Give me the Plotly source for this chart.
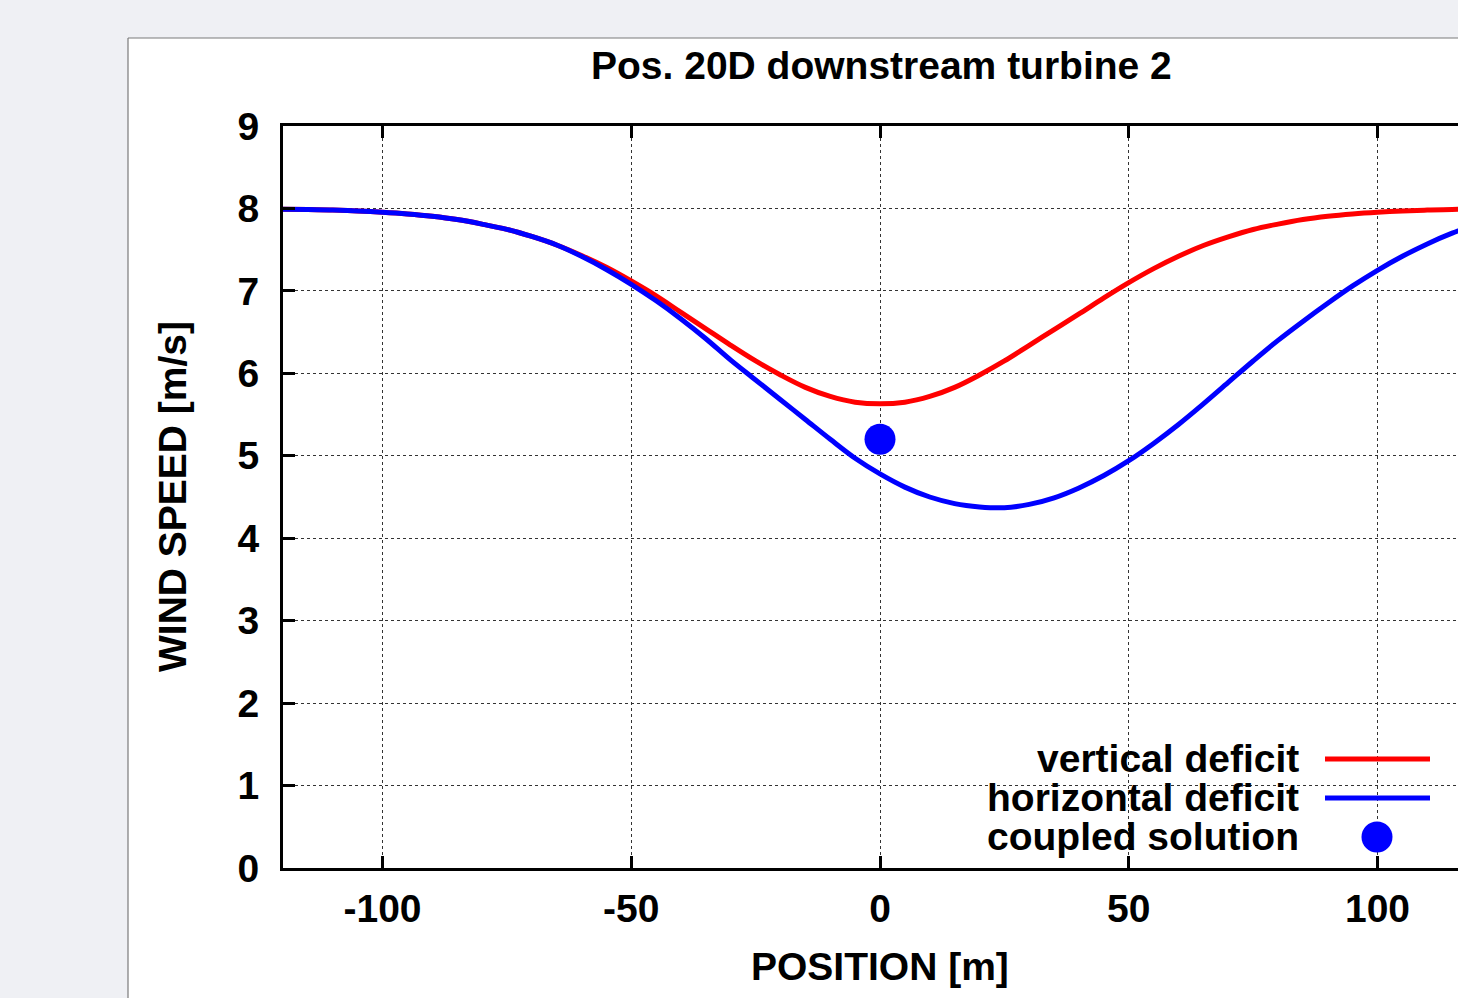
import plotly.graph_objects as go

# ---- data ----
pos = [-120, -115, -110, -105, -100, -95, -90, -85, -80, -75, -70, -65, -60, -55, -50,
       -45, -40, -35, -30, -25, -20, -15, -10, -5, 0, 5, 10, 15, 20, 25, 30, 35, 40,
       45, 50, 55, 60, 65, 70, 75, 80, 85, 90, 95, 100, 105, 110, 115, 120]
vertical = [7.99, 7.988, 7.98, 7.97, 7.955, 7.934, 7.905, 7.865, 7.81, 7.746, 7.66, 7.557, 7.43,
            7.286, 7.12, 6.94, 6.74, 6.54, 6.34, 6.15, 5.98, 5.83, 5.72, 5.65, 5.63,
            5.65, 5.72, 5.83, 5.98, 6.15, 6.34, 6.53, 6.72, 6.915, 7.10, 7.27, 7.42, 7.55,
            7.655, 7.745, 7.81, 7.865, 7.905, 7.934, 7.955, 7.97, 7.98, 7.988, 7.99]
horizontal = [7.99, 7.988, 7.98, 7.97, 7.955, 7.934, 7.905, 7.865, 7.81, 7.746, 7.66, 7.557, 7.42,
              7.26, 7.08, 6.88, 6.66, 6.42, 6.16, 5.92, 5.68, 5.44, 5.20, 4.97, 4.78,
              4.62, 4.50, 4.42, 4.38, 4.37, 4.41, 4.49, 4.61, 4.76, 4.94, 5.15, 5.38, 5.63,
              5.89, 6.15, 6.40, 6.63, 6.85, 7.06, 7.25, 7.42, 7.57, 7.70, 7.81]
coupled_pos = [0]
coupled = [5.2]

legend_labels = ["vertical deficit", "horizontal deficit", "coupled solution"]
title_text = "Pos. 20D downstream turbine 2"
xlabel = "POSITION [m]"
ylabel = "WIND SPEED [m/s]"
xticks = [-100, -50, 0, 50, 100]
yticks = [0, 1, 2, 3, 4, 5, 6, 7, 8, 9]

RED = "#ff0000"
BLUE = "#0000ff"
GREY_BG = "#eff0f4"
FONT = "Liberation Sans"
FS = 39

W, H = 1458, 998
L, R, T, B = 283, 0, 126, 130
PW, PH = W - L - R, H - T - B
BOTTOM = H - B  # pixel row of the x axis


def px(xp):
    return (xp - L) / PW


def py(yp):
    return (BOTTOM - yp) / PH


fig = go.Figure()
fig.add_trace(go.Scatter(x=pos, y=vertical, mode="lines",
                         line=dict(color=RED, width=5, shape="spline", smoothing=1.0),
                         name=legend_labels[0], showlegend=False))
fig.add_trace(go.Scatter(x=pos, y=horizontal, mode="lines",
                         line=dict(color=BLUE, width=5, shape="spline", smoothing=1.0),
                         name=legend_labels[1], showlegend=False))
fig.add_trace(go.Scatter(x=coupled_pos, y=coupled, mode="markers",
                         marker=dict(color=BLUE, size=31),
                         name=legend_labels[2], showlegend=False))

shapes = []
# grey page background strips (top and left); the rest of the paper is the white panel
shapes.append(dict(type="rect", xref="paper", yref="paper",
                   x0=px(0), x1=1.0, y0=py(38), y1=py(0),
                   fillcolor=GREY_BG, line=dict(width=0), layer="below"))
shapes.append(dict(type="rect", xref="paper", yref="paper",
                   x0=px(0), x1=px(128), y0=py(H), y1=py(0),
                   fillcolor=GREY_BG, line=dict(width=0), layer="below"))
shapes.append(dict(type="line", xref="paper", yref="paper",
                   x0=px(128), x1=1.0, y0=py(38), y1=py(38),
                   line=dict(color="#7a7a7a", width=1.2), layer="below"))
shapes.append(dict(type="line", xref="paper", yref="paper",
                   x0=px(128), x1=px(128), y0=py(38), y1=py(H),
                   line=dict(color="#7a7a7a", width=1.2), layer="below"))
# key background (hides grid)
shapes.append(dict(type="rect", xref="paper", yref="paper",
                   x0=px(879), x1=px(1450), y0=py(866), y1=py(739),
                   fillcolor="white", line=dict(width=0), layer="between"))
# key samples
shapes.append(dict(type="line", xref="paper", yref="paper",
                   x0=px(1325), x1=px(1430), y0=py(759), y1=py(759),
                   line=dict(color=RED, width=5)))
shapes.append(dict(type="line", xref="paper", yref="paper",
                   x0=px(1325), x1=px(1430), y0=py(798), y1=py(798),
                   line=dict(color=BLUE, width=5)))
shapes.append(dict(type="circle", xref="paper", yref="paper",
                   x0=px(1377 - 15.5), x1=px(1377 + 15.5), y0=py(837 + 15.5), y1=py(837 - 15.5),
                   fillcolor=BLUE, line=dict(width=0)))

annotations = []
for lab, yy in zip(legend_labels, [758, 797, 836]):
    annotations.append(dict(text=lab, xref="paper", yref="paper", x=px(1301), y=py(yy),
                            xanchor="right", yanchor="middle", showarrow=False,
                            font=dict(family=FONT, size=FS, color="black", weight="bold")))
annotations.append(dict(text=xlabel, xref="paper", yref="paper", x=px(880), y=py(966),
                        xanchor="center", yanchor="middle", showarrow=False,
                        font=dict(family=FONT, size=FS, color="black", weight="bold")))
annotations.append(dict(text=ylabel, xref="paper", yref="paper", x=px(172), y=py(497),
                        xanchor="center", yanchor="middle", showarrow=False, textangle=-90,
                        font=dict(family=FONT, size=FS, color="black", weight="bold")))
annotations.append(dict(text=title_text, xref="paper", yref="paper", x=px(881), y=py(66),
                        xanchor="center", yanchor="middle", showarrow=False,
                        font=dict(family=FONT, size=FS, color="black", weight="bold")))

fig.update_layout(
    width=W, height=H,
    margin=dict(l=L, r=R, t=T, b=B, pad=0),
    paper_bgcolor="white",
    plot_bgcolor="white",
    shapes=shapes,
    annotations=annotations,
    showlegend=False,
    font=dict(family=FONT, size=FS, color="black"),
)
fig.update_xaxes(range=[-120, -120 + PW / 4.975], tickvals=xticks, ticktext=[str(v) for v in xticks],
                 showgrid=True, gridcolor="#333333", griddash="dot", gridwidth=1.3,
                 zeroline=False, showline=True, linecolor="black", linewidth=3,
                 mirror="ticks", ticks="inside", ticklen=12, tickwidth=3, tickcolor="black",
                 ticklabelstandoff=4,
                 tickfont=dict(family=FONT, size=FS, color="black", weight="bold"))
fig.update_yaxes(range=[0, 9], tickvals=yticks, ticktext=[str(v) for v in yticks],
                 showgrid=True, gridcolor="#333333", griddash="dot", gridwidth=1.3,
                 zeroline=False, showline=True, linecolor="black", linewidth=3,
                 mirror=False, ticks="inside", ticklen=12, tickwidth=3, tickcolor="black",
                 ticklabelstandoff=13,
                 tickfont=dict(family=FONT, size=FS, color="black", weight="bold"))

fig.write_html("out.html")
